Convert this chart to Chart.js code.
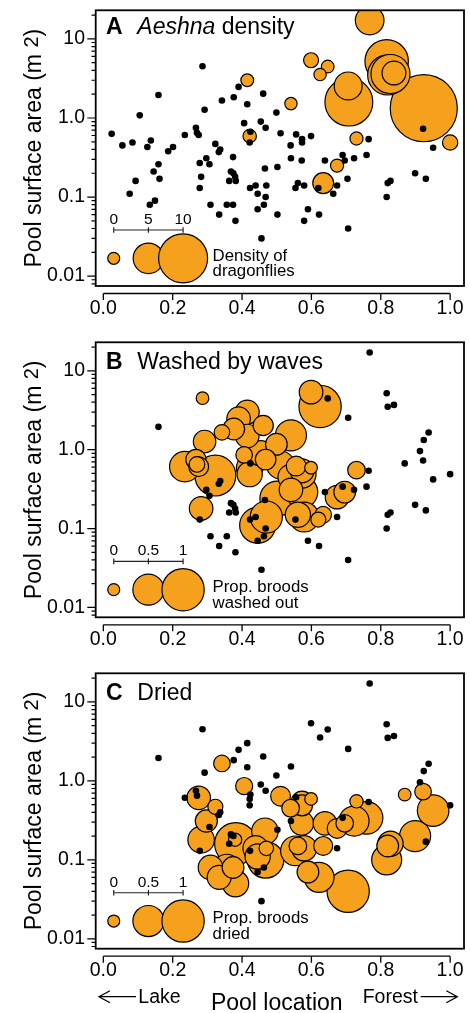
<!DOCTYPE html>
<html>
<head>
<meta charset="utf-8">
<script src="https://cdn.jsdelivr.net/npm/chart.js@4.4.0/dist/chart.umd.min.js"></script>
<style>
  body { margin: 0; background: #fff; }
  canvas { position: absolute; left: 0; }
</style>
</head>
<body>
<canvas id="panelA" width="470" height="332" style="top:0px"></canvas>
<canvas id="panelB" width="470" height="331" style="top:332px"></canvas>
<canvas id="panelC" width="470" height="350" style="top:663px"></canvas>
<script>
// pool location (0 = lake, 1 = forest) and surface area (m2), one entry per pool
const poolX = [
  0.024, 0.055, 0.084, 0.105, 0.127, 0.137, 0.159, 0.187, 0.201, 0.159,
  0.145, 0.162, 0.093, 0.076, 0.134, 0.149, 0.235, 0.267, 0.270, 0.275,
  0.286, 0.292, 0.278, 0.282, 0.278, 0.297, 0.306, 0.309, 0.334, 0.323,
  0.337, 0.333, 0.342, 0.376, 0.390, 0.415, 0.461, 0.406, 0.424, 0.422,
  0.454, 0.468, 0.499, 0.374, 0.368, 0.375, 0.380, 0.363, 0.382, 0.356,
  0.374, 0.381, 0.423, 0.439, 0.445, 0.466, 0.470, 0.468, 0.463, 0.445,
  0.456, 0.502, 0.502, 0.511, 0.540, 0.541, 0.556, 0.573, 0.573, 0.599,
  0.572, 0.561, 0.554, 0.579, 0.590, 0.579, 0.622, 0.620, 0.639, 0.663,
  0.674, 0.690, 0.696, 0.704, 0.706, 0.723, 0.759, 0.765, 0.817, 0.820,
  0.828, 0.899, 0.930, 0.951, 0.922,
  0.768, 0.599, 0.647, 0.625, 0.415, 0.541, 0.708, 0.706, 0.817, 0.820,
  0.828, 0.838, 0.924, 1.000, 0.730, 0.674, 0.634, 0.422, 0.938, 0.913, 0.869
];
const poolArea = [
  0.63, 0.45, 0.49, 1.08, 0.43, 0.52, 1.95, 0.38, 0.43, 0.26,
  0.21, 0.17, 0.16, 0.11, 0.08, 0.09, 0.61, 0.75, 0.65, 0.61,
  4.5, 1.27, 0.27, 0.18, 0.13, 0.31, 0.26, 0.08, 0.06, 0.47,
  0.40, 0.37, 1.66, 1.83, 2.47, 1.49, 2.03, 0.86, 0.67, 0.49,
  0.90, 0.75, 1.17, 0.32, 0.21, 0.20, 0.18, 0.16, 0.16, 0.08,
  0.08, 0.05, 0.13, 0.14, 0.11, 0.23, 0.14, 0.10, 0.08, 0.07,
  0.03, 0.06, 0.24, 0.64, 0.45, 0.31, 0.62, 0.54, 0.49, 0.59,
  0.29, 0.15, 0.13, 0.14, 0.07, 0.05, 0.06, 0.13, 0.29, 0.11,
  0.14, 0.34, 0.29, 0.17, 0.04, 0.31, 0.34, 0.54, 0.10, 0.15,
  0.16, 0.20, 0.17, 0.42, 0.73,
  17.1, 5.37, 4.47, 3.54, 3.0, 1.52, 1.59, 2.54, 5.2, 3.5,
  3.6, 3.7, 1.33, 0.49, 0.55, 0.25, 0.15, 0.59, 1.65, 0.96, 0.67
];
// A: Aeshna density (null = not sampled)
const aeshnaDensity = [
  0, 0, 0, 0, 0, 0, 0, 0, 0, 0,
  0, 0, 0, 0, 0, 0, 0, 0, 0, 0,
  0, 0, 0, 0, 0, 0, 0, 0, 0, 0,
  0, 0, 0, 0, 0, 0, 0, 0, 0, 0,
  0, 0, 0, 0, 0, 0, 0, 0, 0, 0,
  0, 0, 0, 0, 0, 0, 0, 0, 0, 0,
  0, 0, 0, 0, 0, 0, 0, 0, 0, 0,
  0, 0, 0, 0, 0, 0, 0, 0, 0, 0,
  0, 0, 0, 0, 0, 0, 0, 0, 0, 0,
  0, 0, 0, 0, 0,
  4.5, 0.8, 0.2, 0.1, 0.2, 0.1, 9.7, 4.3, 8.5, 7.6,
  7.3, 3.2, 14.9, 0.9, 0.3, 0.3, 2.4, 0.4, null, null, null
];
// B: proportion of broods washed out by waves
const propWashed = [
  null, null, null, null, null, null, 0, null, null, null,
  null, null, null, null, null, null, 0.48, 0.16, 0.06, 0.15,
  0.01, 0.22, null, 0.25, 0, 0, 0, 0, 0, 0.93,
  0, 0, 0.06, 0.2, 0.25, 0.25, 0.16, 0.08, 0, 0.3,
  0.3, 0.17, 0.2, null, 0, 0, 0, 0, 0, 0,
  null, 0, 0, 0, 0.7, 0, 0.54, 0, 0, 0,
  0, null, 0.66, 0.39, 0.3, 0.25, 0.15, 0.26, 0.39, 0.01,
  0.54, 0.3, 0, 0.45, 0, null, 0, 0.05, 0, null,
  0, 0, 0.2, null, 0, 0, 0, 0, 0, 0,
  0, 0, 0, 0, 0,
  0, 0.25, 0, 1.0, 0.26, 0.5, null, 0, 0, 0,
  null, 0, 0, 0, 0.1, 0.25, 0.08, 0.34, 0, 0, 0
];
// C: proportion of broods dried
const propDried = [
  null, null, null, null, null, null, 0, null, null, null,
  null, null, null, null, null, null, 0, 0, 0, 0.25,
  0, 0, null, 0.34, 0, 0.21, 0, 0.28, 0.26, 0.05,
  0, 0, 0.08, 0, 0, 0, 0, 0.09, 0, 0,
  0, 0, 0, null, 0, 0, 0.02, 0, 1.0, 0.34,
  0.2, 0.34, 0, 0.3, 0.3, 0.34, 0.04, 0.72, 0, 0,
  0, null, 0, 0.15, 0.1, 0, 0, 0.2, 0.18, 0.01,
  0.26, 0.1, 0.45, 0.3, 0.2, null, 0.46, null, 0.25, null,
  0, 0, 0.1, null, 1.0, 0.46, 0.56, 0, 0.46, 0.2,
  0.3, 0.5, 0, 0.52, 0.08,
  0, 0, 0, 0, 0, 0, null, 0, 0, 0,
  null, 0, 0, 0, 0.02, 0.15, 0.13, 0, 0, 0, 0.01
];

const xTickValues = [0, 0.2, 0.4, 0.6, 0.8, 1.0];
const xTickLabels = ['0.0', '0.2', '0.4', '0.6', '0.8', '1.0'];
const yTickValues = [0.01, 0.1, 1, 10];
const yTickLabels = ['0.01', '0.1', '1.0', '10'];
const xMin = -0.022, xMax = 1.04;
const yMin = 0.0075, yMax = 23;

// size legend
const legendX = [0.03, 0.13, 0.23];
const legendY = 0.0168;
const legendTextX = 0.315;
const densityLegendValues = [0, 5, 10];
const densityLegendLabels = ['0', '5', '10'];
const propLegendValues = [0, 0.5, 1];
const propLegendLabels = ['0', '0.5', '1'];

const FONT = '"Liberation Sans", Arial, sans-serif';
const ORANGE = '#F6A11E';

const yMinorTicks = [];
for (let e = -3; e <= 1; e++) {
  for (let m = 2; m <= 9; m++) {
    const v = m * Math.pow(10, e);
    if (v >= yMin && v <= yMax) yMinorTicks.push(v);
  }
}

const radiusDensity = v => 6 + 1.85 * v;
const radiusProp = p => Math.sqrt(36 + 411 * p);

const panels = [
  {
    id: 'panelA', letter: 'A', titleDrop: 24,
    title: [{text: 'Aeshna', italic: true}, {text: ' density'}],
    values: aeshnaDensity, radius: radiusDensity,
    legendValues: densityLegendValues, legendLabels: densityLegendLabels,
    legendText: ['Density of', 'dragonflies'],
    xAxisHeight: 46, caption: false
  },
  {
    id: 'panelB', letter: 'B', titleDrop: 26.5,
    title: [{text: 'Washed by waves'}],
    values: propWashed, radius: radiusProp,
    legendValues: propLegendValues, legendLabels: propLegendLabels,
    legendText: ['Prop. broods', 'washed out'],
    xAxisHeight: 45.7, caption: false
  },
  {
    id: 'panelC', letter: 'C', titleDrop: 27,
    title: [{text: 'Dried'}],
    values: propDried, radius: radiusProp,
    legendValues: propLegendValues, legendLabels: propLegendLabels,
    legendText: ['Prop. broods', 'dried'],
    xAxisHeight: 64.3, caption: true
  }
];

function arrow(ctx, xFrom, xTo, y) {
  const dir = Math.sign(xTo - xFrom);
  ctx.beginPath();
  ctx.moveTo(xFrom, y);
  ctx.lineTo(xTo, y);
  ctx.moveTo(xTo - dir * 11, y - 6);
  ctx.lineTo(xTo, y);
  ctx.lineTo(xTo - dir * 11, y + 6);
  ctx.stroke();
}

function noPad(s) {
  s.paddingLeft = 0; s.paddingRight = 0; s.paddingTop = 0; s.paddingBottom = 0;
}

function decor(panel) {
  return {
    id: 'decor' + panel.letter,
    afterDraw(chart) {
      const ctx = chart.ctx, a = chart.chartArea;
      const xs = chart.scales.x, ys = chart.scales.y;
      ctx.save();
      ctx.strokeStyle = '#000';
      ctx.fillStyle = '#000';

      // plot box
      ctx.lineWidth = 1.8;
      ctx.strokeRect(a.left, a.top, a.right - a.left, a.bottom - a.top);

      // y ticks, major and minor
      ctx.lineWidth = 1.2;
      ctx.beginPath();
      yTickValues.forEach(v => {
        const p = ys.getPixelForValue(v);
        ctx.moveTo(a.left - 8.4, p); ctx.lineTo(a.left, p);
      });
      yMinorTicks.forEach(v => {
        const p = ys.getPixelForValue(v);
        ctx.moveTo(a.left - 4.2, p); ctx.lineTo(a.left, p);
      });
      ctx.stroke();

      // x axis line below the box
      const ay = a.bottom + 7.5;
      const x0 = xs.getPixelForValue(xTickValues[0]);
      const x1 = xs.getPixelForValue(xTickValues[xTickValues.length - 1]);
      ctx.lineWidth = 1.3;
      ctx.beginPath();
      ctx.moveTo(x0, ay); ctx.lineTo(x1, ay);
      xTickValues.forEach(v => {
        const p = xs.getPixelForValue(v);
        ctx.moveTo(p, ay); ctx.lineTo(p, ay + 6.5);
      });
      ctx.stroke();

      // y axis title with raised 2
      ctx.save();
      ctx.translate(40.5, (a.top + a.bottom) / 2);
      ctx.rotate(-Math.PI / 2);
      ctx.textAlign = 'left';
      ctx.textBaseline = 'alphabetic';
      const main = 'Pool surface area (m';
      ctx.font = '23px ' + FONT;
      const w1 = ctx.measureText(main).width;
      const wsp = ctx.measureText(' ').width;
      const w3 = ctx.measureText(')').width;
      ctx.font = '20px ' + FONT;
      const w2 = ctx.measureText('2').width;
      let tx = -(w1 + wsp + w2 + w3) / 2;
      ctx.font = '23px ' + FONT;
      ctx.fillText(main, tx, 0);
      tx += w1 + wsp;
      ctx.font = '20px ' + FONT;
      ctx.fillText('2', tx, -3);
      tx += w2;
      ctx.font = '23px ' + FONT;
      ctx.fillText(')', tx, 0);
      ctx.restore();

      // panel title
      ctx.textAlign = 'left';
      ctx.textBaseline = 'alphabetic';
      const ty = a.top + panel.titleDrop;
      ctx.font = 'bold 23px ' + FONT;
      ctx.fillText(panel.letter, 106, ty);
      let px = 137.3;
      panel.title.forEach(part => {
        ctx.font = (part.italic ? 'italic ' : '') + '23px ' + FONT;
        ctx.fillText(part.text, px, ty);
        px += ctx.measureText(part.text).width;
      });

      // size legend: scale bar, labels, text
      const cy = ys.getPixelForValue(legendY);
      const lp = legendX.map(v => xs.getPixelForValue(v));
      const by = cy - 28.3;
      ctx.lineWidth = 1.2;
      ctx.strokeStyle = '#222';
      ctx.beginPath();
      ctx.moveTo(lp[0], by); ctx.lineTo(lp[lp.length - 1], by);
      lp.forEach(p => { ctx.moveTo(p, by - 2.8); ctx.lineTo(p, by + 2.8); });
      ctx.stroke();
      ctx.font = '15.5px ' + FONT;
      ctx.textAlign = 'center';
      panel.legendLabels.forEach((t, i) => ctx.fillText(t, lp[i], cy - 34.3));
      ctx.textAlign = 'left';
      ctx.font = '16.8px ' + FONT;
      const lx = xs.getPixelForValue(legendTextX);
      panel.legendText.forEach((t, i) => ctx.fillText(t, lx, cy + 2.3 + i * 15.7));

      // bottom caption
      if (panel.caption) {
        ctx.strokeStyle = '#000';
        ctx.font = '23px ' + FONT;
        ctx.textAlign = 'center';
        ctx.fillText('Pool location', (x0 + x1) / 2, a.bottom + 61.3);
        ctx.font = '19.5px ' + FONT;
        ctx.textAlign = 'left';
        ctx.fillText('Lake', 138.3, a.bottom + 54.2);
        ctx.fillText('Forest', 362.7, a.bottom + 54.2);
        ctx.lineWidth = 1.3;
        arrow(ctx, 136, 99, a.bottom + 48);
        arrow(ctx, 420.7, 457.3, a.bottom + 48);
      }
      ctx.restore();
    }
  };
}

function makeChart(panel) {
  const dots = [], circles = [];
  poolX.forEach((x, i) => {
    const v = panel.values[i];
    if (v === null) return;
    if (v > 0) circles.push({x: x, y: poolArea[i], v: v});
    else dots.push({x: x, y: poolArea[i]});
  });
  // largest symbols first so small ones stay visible
  circles.sort((p, q) => q.v - p.v);
  const legendPts = legendX.map((x, i) => ({x: x, y: legendY, v: panel.legendValues[i]}));
  const sized = c => (c.raw ? panel.radius(c.raw.v) : 6);

  new Chart(document.getElementById(panel.id), {
    type: 'scatter',
    data: {
      datasets: [
        {
          label: 'pools',
          data: dots,
          pointRadius: 3.3,
          pointBackgroundColor: '#000',
          pointBorderWidth: 0,
          clip: 0
        },
        {
          label: 'values',
          data: circles,
          pointRadius: sized,
          pointBackgroundColor: ORANGE,
          pointBorderColor: '#000',
          pointBorderWidth: 1.2,
          clip: 0
        },
        {
          label: 'legend',
          data: legendPts,
          pointRadius: sized,
          pointBackgroundColor: ORANGE,
          pointBorderColor: '#000',
          pointBorderWidth: 1.2,
          clip: 0
        }
      ]
    },
    options: {
      responsive: false,
      animation: false,
      events: [],
      layout: { autoPadding: false, padding: { top: 10.3, right: 6, bottom: 0, left: 0 } },
      plugins: { legend: { display: false }, tooltip: { enabled: false } },
      scales: {
        x: {
          type: 'linear',
          min: xMin,
          max: xMax,
          bounds: 'data',
          afterBuildTicks: s => { s.ticks = xTickValues.map(v => ({value: v})); },
          afterFit: s => { s.height = panel.xAxisHeight; noPad(s); },
          ticks: {
            callback: (v, i) => xTickLabels[i],
            autoSkip: false,
            maxRotation: 0,
            padding: 10.6,
            color: '#000',
            font: { family: FONT, size: 19.5 }
          },
          grid: { display: false, drawTicks: false },
          border: { display: false }
        },
        y: {
          type: 'logarithmic',
          min: yMin,
          max: yMax,
          bounds: 'data',
          afterBuildTicks: s => { s.ticks = yTickValues.map(v => ({value: v})); },
          afterFit: s => { s.width = 95.7; noPad(s); },
          ticks: {
            callback: (v, i) => yTickLabels[i],
            autoSkip: false,
            padding: 10.7,
            color: '#000',
            font: { family: FONT, size: 19.5 }
          },
          grid: { display: false, drawTicks: false },
          border: { display: false }
        }
      }
    },
    plugins: [decor(panel)]
  });
}

panels.forEach(makeChart);
</script>
</body>
</html>
